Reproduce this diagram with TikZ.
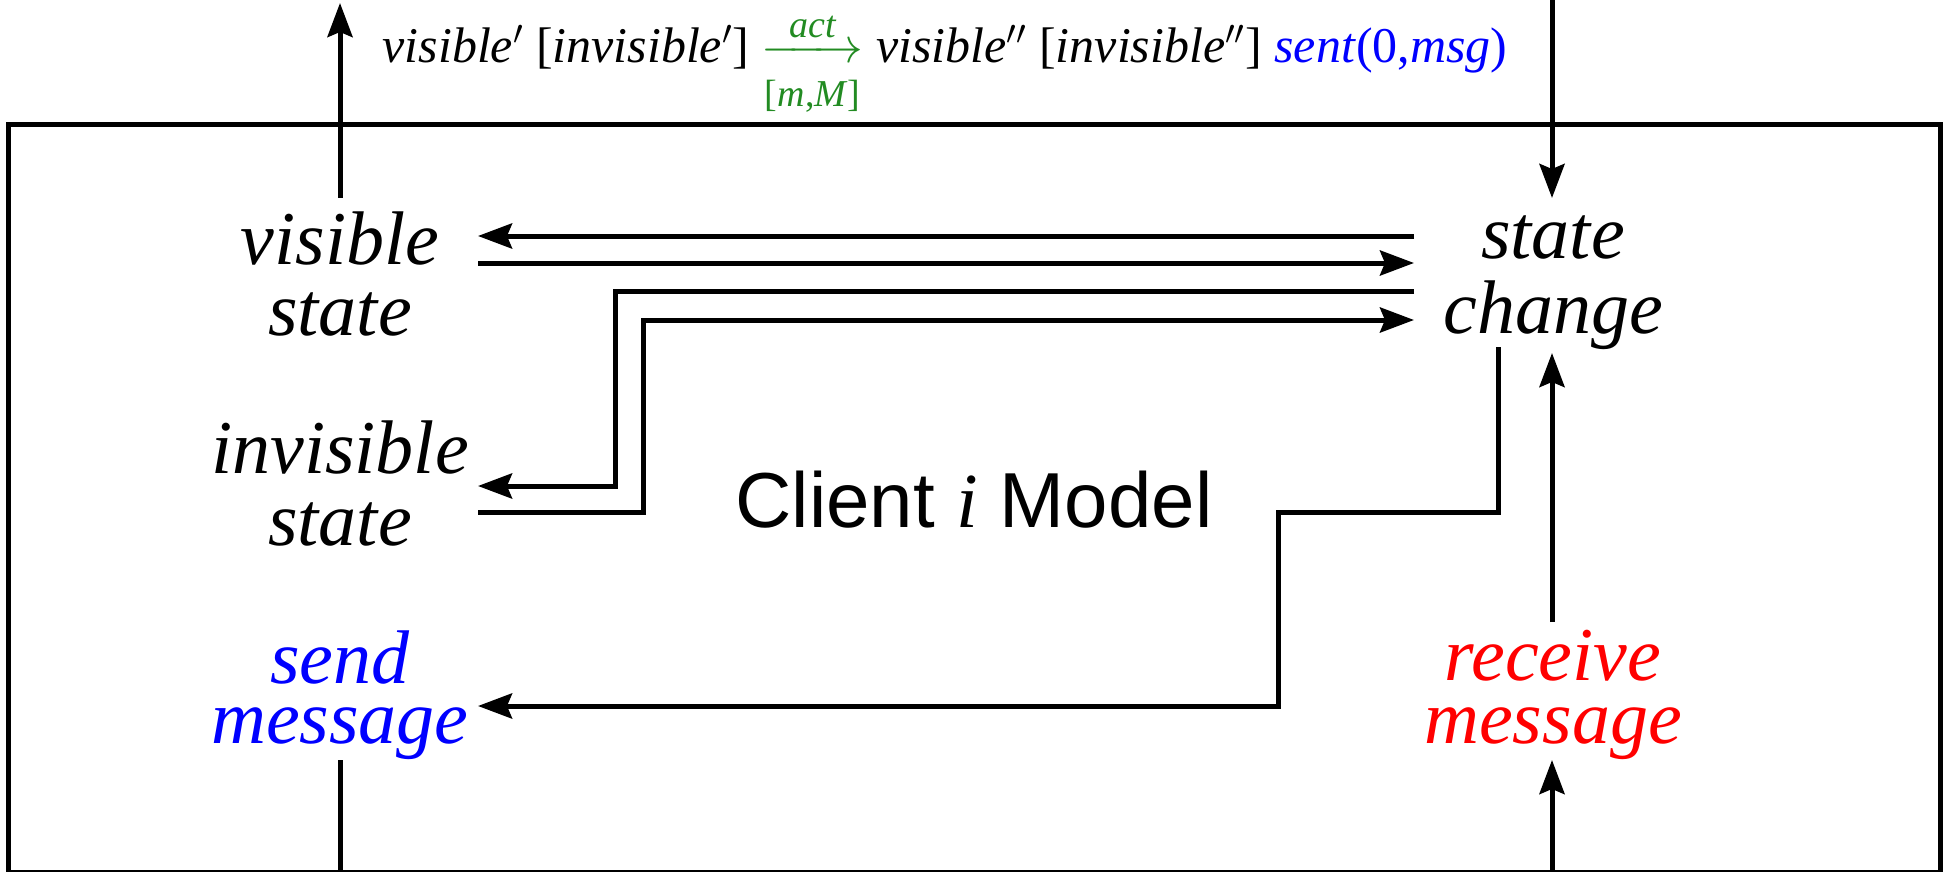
\documentclass[tikz,border=0pt]{standalone}
\usepackage{amsmath}
\usepackage{fontspec}
\setmainfont{Liberation Serif}
\setsansfont{Liberation Sans}
\usetikzlibrary{arrows.meta}
\definecolor{actgreen}{RGB}{34,139,34}
\definecolor{msgblue}{RGB}{0,0,255}
\definecolor{msgred}{RGB}{255,0,0}
\newcommand\twol[3]{\vtop{\baselineskip=#1\lineskiplimit=-100pt\lineskip=0pt\halign{\hfil##\hfil\cr#2\cr#3\cr}}}
\newcommand\actarr{{\color{actgreen}%
  \makebox[0pt][l]{\raisebox{13pt}{\makebox[51pt][c]{\fontsize{19}{19}\selectfont\itshape act}}}%
  \makebox[0pt][l]{\raisebox{-22pt}{\makebox[51pt][c]{\fontsize{19}{19}\selectfont[\textit{m},\textit{M}]}}}%
  \hbox to 51pt{\rightarrowfill}}}
\begin{document}
\begin{tikzpicture}[x=0.5pt,y=-0.5pt,
  wire/.style={line width=2.5pt},
  arr/.style={wire,-{Stealth[length=17pt,width=12.5pt,inset=2.5pt]}},
  lbl/.style={inner sep=0pt,anchor=base,font=\fontsize{38}{38}\selectfont\itshape},
]
\useasboundingbox (0,0) rectangle (1945,872);
\draw[wire] (8,125) rectangle (1940,872);

% labels
\node[lbl] (vis) at (340,264) {\twol{35.5pt}{visible}{state}};
\node[lbl] (invis) at (340,473) {\twol{36pt}{invisible}{state}};
\node[lbl] (chg) at (1553,258) {\twol{37.5pt}{state}{change}};
\node[lbl,text=msgblue] (send) at (340,683) {\twol{30pt}{send}{message}};
\node[lbl,text=msgred] (recv) at (1553,680) {\twol{31.5pt}{receive}{message}};
\node[inner sep=0pt,anchor=base,font=\fontsize{39}{39}\selectfont\sffamily] (model) at (974,527) {Client {\rmfamily\itshape i} Model};
\node[inner sep=0pt,anchor=base,font=\fontsize{25}{25}\selectfont] (trans) at (945,63)
 {\textit{visible}$'$ [\textit{invisible}$'$]\ \actarr\ \textit{visible}$''$ [\textit{invisible}$''$] {\color{msgblue}\textit{sent}(0,\textit{msg})}};

% connector end points
\coordinate (vTop) at (340,3);
\coordinate (vBot) at (340,198);
\coordinate (cTop) at (1552,0);
\coordinate (cIn) at (1552,198);
\coordinate (visA) at (478,236);
\coordinate (chgA) at (1414,236);
\coordinate (visB) at (478,263);
\coordinate (chgB) at (1414,263);
\coordinate (chgC) at (1414,291);
\coordinate (invA) at (478,486);
\coordinate (invB) at (478,512);
\coordinate (chgD) at (1414,320);
\coordinate (chgE) at (1498,347);
\coordinate (sendA) at (478,706);
\coordinate (recvT) at (1552,622);
\coordinate (chgF) at (1552,353);
\coordinate (recvB) at (1552,872);
\coordinate (recvIn) at (1552,760);
\coordinate (sendOut) at (340,760);
\coordinate (sendB) at (340,872);

% connectors
\draw[arr] (vBot) -- (vTop);
\draw[arr] (cTop) -- (cIn);
\draw[arr] (chgA) -- (visA);
\draw[arr] (visB) -- (chgB);
\draw[arr] (chgC) -| (615,486) -- (invA);
\draw[arr] (invB) -| (643,320) -- (chgD);
\draw[arr] (chgE) |- (1278,512) |- (sendA);
\draw[arr] (recvT) -- (chgF);
\draw[arr] (recvB) -- (recvIn);
\draw[wire] (sendOut) -- (sendB);
\end{tikzpicture}
\end{document}
